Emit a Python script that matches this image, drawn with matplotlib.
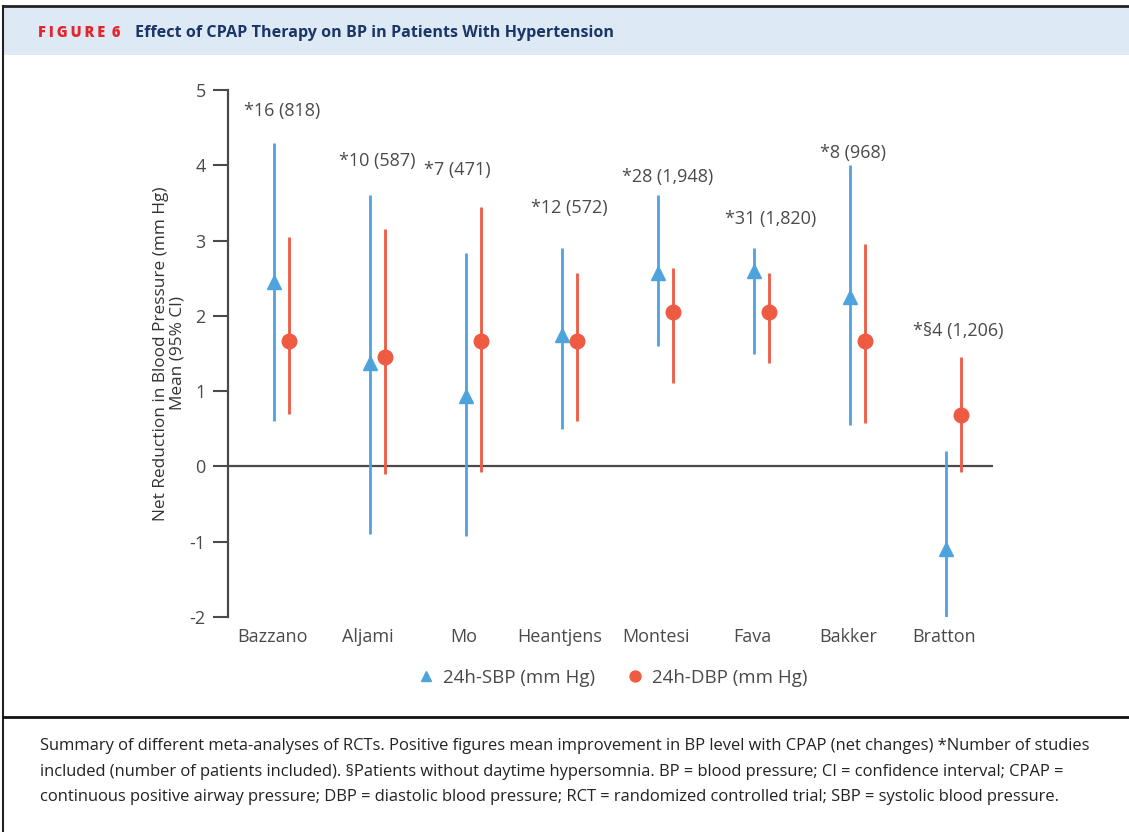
import matplotlib
matplotlib.use("Agg")
import matplotlib.pyplot as plt
from matplotlib.patches import Rectangle
from matplotlib.lines import Line2D
import numpy as np

# ---- data ----
studies = ["Bazzano", "Aljami", "Mo", "Heantjens", "Montesi", "Fava", "Bakker", "Bratton"]
sbp_mean = [2.45, 1.37, 0.93, 1.75, 2.57, 2.60, 2.25, -1.10]
sbp_low = [0.60, -0.90, -0.93, 0.50, 1.60, 1.50, 0.55, -2.02]
sbp_high = [4.30, 3.60, 2.83, 2.90, 3.60, 2.90, 4.00, 0.20]
dbp_mean = [1.66, 1.46, 1.66, 1.66, 2.05, 2.05, 1.66, 0.68]
dbp_low = [0.70, -0.10, -0.08, 0.60, 1.11, 1.38, 0.58, -0.08]
dbp_high = [3.05, 3.15, 3.45, 2.57, 2.64, 2.57, 2.95, 1.45]
annot = ["*16 (818)", "*10 (587)", "*7 (471)", "*12 (572)", "*28 (1,948)",
         "*31 (1,820)", "*8 (968)", "*\u00a74 (1,206)"]
yticks = [-2, -1, 0, 1, 2, 3, 4, 5]

# ---- layout (not data) ----
annot_y = [4.72, 4.06, 3.94, 3.43, 3.84, 3.28, 4.16, 1.80]
annot_dx = [0.0, 0.0, -0.17, 0.0, 0.02, 0.09, -0.05, 0.05]

BLUE = "#4fa3dc"
RED = "#ef5a42"
GRAY = "#4a4a4a"
FONT = ["Open Sans", "DejaVu Sans"]
plt.rcParams['font.family'] = FONT

W, H = 1129, 832
fig = plt.figure(figsize=(W / 100, H / 100), dpi=100)
fig.patch.set_facecolor("white")

# header band
fig.add_artist(Rectangle((0.003, 1 - 55 / H), 1.0, 48 / H, transform=fig.transFigure,
                         facecolor="#dde9f5", edgecolor="none", zorder=0))
fig.add_artist(Line2D([0.003, 1.0], [1 - 6 / H, 1 - 6 / H], transform=fig.transFigure,
                      color="#222222", lw=2))
fig.add_artist(Line2D([0.003, 0.003], [0, 1 - 6 / H], transform=fig.transFigure,
                      color="#222222", lw=1.5))
fig.add_artist(Line2D([0.003, 1.0], [1 - 717 / H, 1 - 717 / H], transform=fig.transFigure,
                      color="#111111", lw=2))
fig.text(38 / W, 1 - 33 / H, "F\u2009I\u2009G\u2009U\u2009R\u2009E\u2009 6", color="#e3262d",
         fontsize=10.5, fontweight="heavy", va="center", ha="left", family=FONT)
fig.text(135 / W, 1 - 33 / H, "Effect of CPAP Therapy on BP in Patients With Hypertension",
         color="#1b3566", fontsize=11.6, fontweight="bold", va="center", ha="left", family=FONT)

ax = fig.add_axes([228 / W, 1 - 617 / H, (993 - 228) / W, (617 - 90) / H])
x = np.arange(len(studies))
off = 0.08

ax.vlines(x - off, sbp_low, sbp_high, color=BLUE, lw=2, zorder=3)
ax.vlines(x + off, dbp_low, dbp_high, color=RED, lw=2, zorder=3)
ax.plot(x - off, sbp_mean, linestyle="none", marker="^", color=BLUE, markersize=10,
        zorder=4, label="24h-SBP (mm Hg)")
ax.plot(x + off, dbp_mean, linestyle="none", marker="o", color=RED, markersize=10.5,
        zorder=4, label="24h-DBP (mm Hg)")
ax.axhline(0, color=GRAY, lw=1.6, zorder=2)

for i, t in enumerate(annot):
    ax.text(x[i] + annot_dx[i], annot_y[i], t, ha="center", va="center",
            fontsize=13, color="#4a4a4a")

ax.set_xlim(-0.56, 7.41)
ax.set_ylim(-2, 5)
ax.set_yticks(yticks)
ax.set_yticklabels([str(v) for v in yticks])
ax.set_xticks(x - 0.1)
ax.set_xticklabels(studies)
ax.tick_params(axis="x", length=0, pad=8, labelsize=13, labelcolor="#4a4a4a")
ax.tick_params(axis="y", length=11, width=1.5, color=GRAY, pad=5, labelsize=13,
               labelcolor="#4a4a4a")
for s in ["top", "right", "bottom"]:
    ax.spines[s].set_visible(False)
ax.spines["left"].set_color(GRAY)
ax.spines["left"].set_linewidth(1.6)
ax.set_ylabel("Net Reduction in Blood Pressure (mm Hg)\nMean (95% CI)", fontsize=12.4,
              color="#333333", labelpad=3, linespacing=1.05)

leg = fig.legend(loc="center", bbox_to_anchor=(612 / W, 1 - 678 / H), ncol=2,
                 frameon=False, fontsize=13.5, handletextpad=0.4, columnspacing=1.6,
                 handlelength=1.0, markerscale=0.75)
for t in leg.get_texts():
    t.set_color("#4a4a4a")

caption = ("Summary of different meta-analyses of RCTs. Positive figures mean improvement in BP level with CPAP (net changes) *Number of studies\n"
           "included (number of patients included). \u00a7Patients without daytime hypersomnia. BP = blood pressure; CI = confidence interval; CPAP =\n"
           "continuous positive airway pressure; DBP = diastolic blood pressure; RCT = randomized controlled trial; SBP = systolic blood pressure.")
fig.text(40 / W, 1 - 738 / H, caption, fontsize=11.85, color="#222222", va="top",
         ha="left", linespacing=1.8, family=FONT)

fig.savefig("out.png", dpi=100)
